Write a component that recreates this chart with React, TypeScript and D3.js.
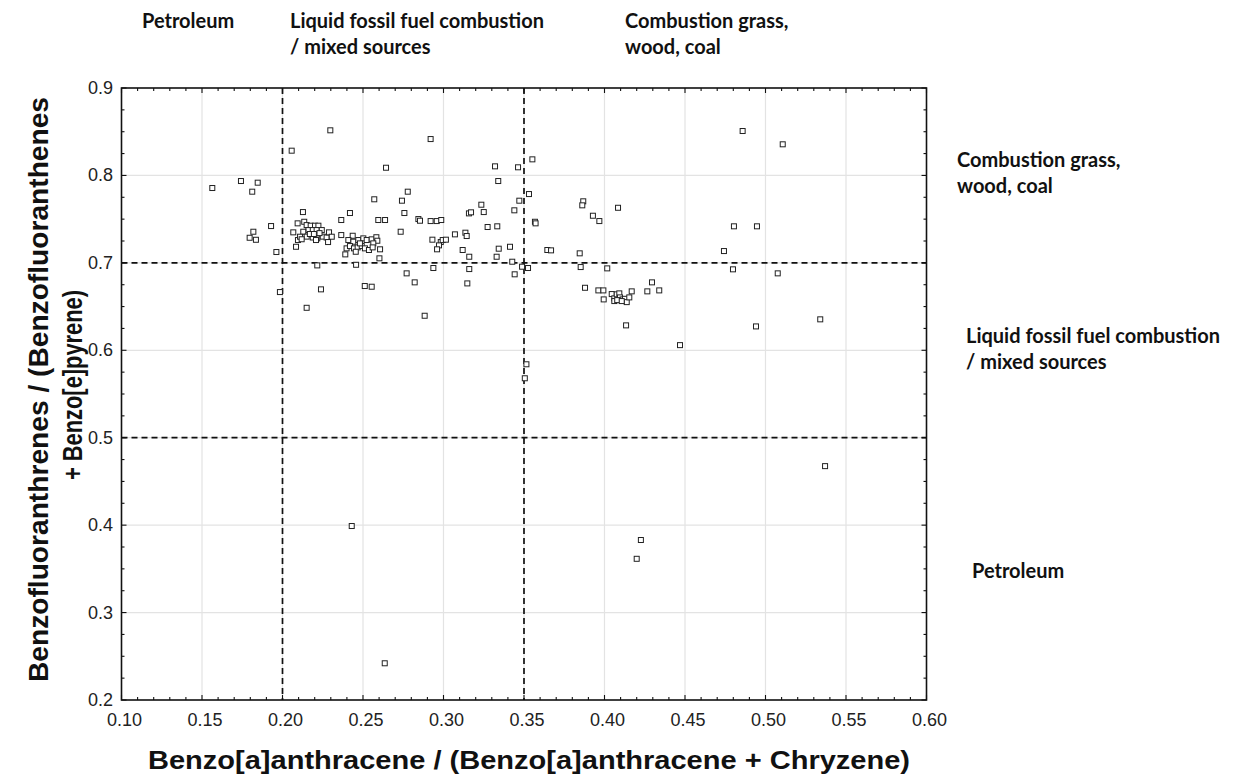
import React from "react";
import * as d3 from "d3";

// BaA/(BaA+Chr) vs BFs/(BFs+BeP) diagnostic ratios, one pair per sample
const samples: [number, number][] = [
  // below 0.20
  [0.1564, 0.7856], [0.1742, 0.7936], [0.1846, 0.7917], [0.1812, 0.7814], [0.1929, 0.7421],
  [0.1819, 0.7356], [0.1796, 0.7287], [0.1835, 0.7264], [0.1962, 0.7124], [0.1984, 0.6666],
  // 0.20 - 0.235
  [0.2057, 0.8283], [0.2297, 0.8516], [0.215, 0.6486], [0.2239, 0.6697], [0.2216, 0.6971],
  [0.2127, 0.7581], [0.2094, 0.7452], [0.2135, 0.747], [0.2067, 0.7349], [0.2096, 0.7261],
  [0.2084, 0.7184], [0.215, 0.7432], [0.2175, 0.7425], [0.2202, 0.7425], [0.2223, 0.7425],
  [0.2161, 0.7375], [0.2188, 0.7375], [0.2212, 0.7375], [0.2244, 0.7375], [0.2129, 0.7356],
  [0.215, 0.73], [0.2188, 0.729], [0.2216, 0.728], [0.225, 0.73], [0.2274, 0.729],
  [0.2289, 0.7349], [0.2306, 0.7299], [0.2283, 0.7238], [0.2109, 0.7299], [0.2119, 0.727],
  [0.2208, 0.7261], [0.217, 0.733], [0.223, 0.734], [0.2195, 0.733],
  // 0.235 - 0.265
  [0.2365, 0.749], [0.2419, 0.757], [0.2365, 0.7318], [0.239, 0.7097], [0.2457, 0.6978],
  [0.2511, 0.6735], [0.2554, 0.6727], [0.257, 0.7727], [0.2595, 0.749], [0.2637, 0.749],
  [0.2436, 0.731], [0.2409, 0.7261], [0.244, 0.7242], [0.2471, 0.7261], [0.2502, 0.728],
  [0.2523, 0.7261], [0.2554, 0.7269], [0.2583, 0.7293], [0.2589, 0.7253], [0.2564, 0.7223],
  [0.2606, 0.7155], [0.2602, 0.7052], [0.2398, 0.7166], [0.2419, 0.7192], [0.2444, 0.7166],
  [0.2467, 0.7177], [0.2492, 0.7192], [0.2512, 0.7166], [0.2537, 0.7147], [0.256, 0.7177],
  [0.2481, 0.7223], [0.2455, 0.7127], [0.243, 0.399], [0.2635, 0.242],
  // 0.265 - 0.35
  [0.2643, 0.8088], [0.2778, 0.7814], [0.2742, 0.7711], [0.2757, 0.757], [0.2734, 0.7356],
  [0.2844, 0.7501], [0.2854, 0.7482], [0.292, 0.7478], [0.2958, 0.7478], [0.2986, 0.749],
  [0.2931, 0.7265], [0.2983, 0.7238], [0.2995, 0.7261], [0.2972, 0.72], [0.296, 0.7155],
  [0.3015, 0.7265], [0.3071, 0.7326], [0.3136, 0.7345], [0.3144, 0.7307], [0.3119, 0.7147],
  [0.316, 0.707], [0.2937, 0.6941], [0.316, 0.6929], [0.3148, 0.6765], [0.2771, 0.688],
  [0.2821, 0.6777], [0.3158, 0.7566], [0.3171, 0.7578], [0.3235, 0.7665], [0.325, 0.7581],
  [0.3274, 0.741], [0.3334, 0.7418], [0.332, 0.8104], [0.334, 0.7936], [0.3463, 0.8093],
  [0.3471, 0.7711], [0.344, 0.7601], [0.3343, 0.7162], [0.3413, 0.7184], [0.333, 0.707],
  [0.3427, 0.7013], [0.3442, 0.6869], [0.3488, 0.6956], [0.2883, 0.6395], [0.292, 0.8416],
  // above 0.35
  [0.3552, 0.8184], [0.3531, 0.7787], [0.3568, 0.747], [0.3572, 0.7452], [0.3525, 0.6941],
  [0.3645, 0.7147], [0.3668, 0.7143], [0.3515, 0.584], [0.3505, 0.568],
  [0.3868, 0.7704], [0.3862, 0.7658], [0.3928, 0.7539], [0.3968, 0.7478], [0.4084, 0.763],
  [0.3846, 0.7109], [0.3852, 0.6952], [0.4017, 0.6937], [0.3879, 0.6715], [0.3962, 0.6685],
  [0.3993, 0.6685], [0.3995, 0.6582], [0.4045, 0.6643], [0.4061, 0.6594], [0.4076, 0.664],
  [0.4092, 0.6651], [0.4096, 0.6605], [0.4113, 0.6582], [0.4127, 0.6589], [0.4138, 0.6551],
  [0.4154, 0.6605], [0.4169, 0.6674], [0.4061, 0.6563], [0.4079, 0.6574], [0.4107, 0.6563],
  [0.4295, 0.6777], [0.4266, 0.6674], [0.434, 0.6685], [0.4134, 0.6285], [0.4469, 0.6059],
  [0.42, 0.3615], [0.4226, 0.383],
  [0.4858, 0.8508], [0.5107, 0.8356], [0.4804, 0.7418], [0.4947, 0.7418], [0.4742, 0.7135],
  [0.4798, 0.6926], [0.5076, 0.688], [0.4941, 0.6273], [0.534, 0.6354], [0.537, 0.4675],
];

const xTicks = [0.1, 0.15, 0.2, 0.25, 0.3, 0.35, 0.4, 0.45, 0.5, 0.55, 0.6];
const yTicks = [0.2, 0.3, 0.4, 0.5, 0.6, 0.7, 0.8, 0.9];
const xThresholds = [0.2, 0.35];
const yThresholds = [0.5, 0.7];

const xTitle = "Benzo[a]anthracene / (Benzo[a]anthracene + Chryzene)";
const yTitleLines = ["Benzofluoranthrenes / (Benzofluoranthenes", "+ Benzo[e]pyrene)"];

const sourcePetroleum = ["Petroleum"];
const sourceLiquid = ["Liquid fossil fuel combustion", "/ mixed sources"];
const sourceCombustion = ["Combustion grass,", "wood, coal"];

const annFont = "Lato, 'Open Sans', sans-serif";
const axisFont = "'Liberation Sans', Arial, sans-serif";

function Note({ lines, x, y }: { lines: string[]; x: number; y: number }) {
  return (
    <text x={x} y={y} fontFamily={annFont} fontWeight={700} fontSize={20} fill="#111">
      {lines.map((l, i) => (
        <tspan key={i} x={x} dy={i === 0 ? 0 : 26}>
          {l}
        </tspan>
      ))}
    </text>
  );
}

export default function App() {
  const W = 1234;
  const H = 775;
  const x = d3.scaleLinear().domain([0.1, 0.6]).range([121.5, 926.5]);
  const y = d3.scaleLinear().domain([0.2, 0.9]).range([700, 88]);
  const [x0, x1] = x.range();
  const [y0, y1] = y.range();

  const xMinor = d3.range(0, 51).map((i) => 0.1 + i * 0.01);
  const yMinor = d3.range(0, 29).map((i) => 0.2 + i * 0.025);
  const fmtX = d3.format(".2f");
  const fmtY = d3.format(".1f");
  const sq = 5;

  return (
    <svg
      width={W}
      height={H}
      viewBox={`0 0 ${W} ${H}`}
      style={{ position: "absolute", left: 0, top: 0, background: "#fff" }}
    >
      <rect width={W} height={H} fill="#fff" />

      {/* grid */}
      {xTicks.slice(1, -1).map((t) => (
        <line key={"gx" + t} x1={x(t)} x2={x(t)} y1={y1} y2={y0} stroke="#e3e3e3" strokeWidth={1.2} />
      ))}
      {yTicks.slice(1, -1).map((t) => (
        <line key={"gy" + t} x1={x0} x2={x1} y1={y(t)} y2={y(t)} stroke="#e3e3e3" strokeWidth={1.2} />
      ))}

      {/* source-apportionment thresholds */}
      {xThresholds.map((t) => (
        <line key={"tx" + t} x1={x(t)} x2={x(t)} y1={y1} y2={y0} stroke="#111" strokeWidth={1.7} strokeDasharray="6,4" />
      ))}
      {yThresholds.map((t) => (
        <line key={"ty" + t} x1={x0} x2={x1} y1={y(t)} y2={y(t)} stroke="#111" strokeWidth={1.7} strokeDasharray="6,4" />
      ))}

      {/* samples */}
      {samples.map(([a, b], i) => (
        <rect
          key={i}
          x={x(a) - sq / 2}
          y={y(b) - sq / 2}
          width={sq}
          height={sq}
          fill="#fff"
          stroke="#222"
          strokeWidth={1}
        />
      ))}

      {/* frame and ticks */}
      <rect x={x0} y={y1} width={x1 - x0} height={y0 - y1} fill="none" stroke="#111" strokeWidth={1.6} />
      {xMinor.map((t, i) => {
        const len = i % 5 === 0 ? 5 : 3;
        return (
          <g key={"mx" + i} stroke="#111" strokeWidth={1.1}>
            <line x1={x(t)} x2={x(t)} y1={y0} y2={y0 - len} />
            <line x1={x(t)} x2={x(t)} y1={y1} y2={y1 + len} />
          </g>
        );
      })}
      {yMinor.map((t, i) => {
        const len = i % 4 === 0 ? 5 : 3;
        return (
          <g key={"my" + i} stroke="#111" strokeWidth={1.1}>
            <line x1={x0} x2={x0 + len} y1={y(t)} y2={y(t)} />
            <line x1={x1} x2={x1 - len} y1={y(t)} y2={y(t)} />
          </g>
        );
      })}

      {/* tick labels */}
      {xTicks.map((t) => (
        <text key={"lx" + t} x={x(t) + 3} y={726} textAnchor="middle" fontFamily={axisFont} fontSize={18} fill="#222">
          {fmtX(t)}
        </text>
      ))}
      {yTicks.map((t) => (
        <text key={"ly" + t} x={113} y={y(t) + 6} textAnchor="end" fontFamily={axisFont} fontSize={18} fill="#222">
          {fmtY(t)}
        </text>
      ))}

      {/* axis titles */}
      <text
        x={529}
        y={769}
        textAnchor="middle"
        fontFamily={axisFont}
        fontWeight={700}
        fontSize={26}
        fill="#111"
        textLength={762}
        lengthAdjust="spacingAndGlyphs"
      >
        {xTitle}
      </text>
      <text
        transform="translate(48,389.5) rotate(-90)"
        textAnchor="middle"
        fontFamily={axisFont}
        fontWeight={700}
        fontSize={27}
        fill="#111"
        textLength={585}
        lengthAdjust="spacingAndGlyphs"
      >
        {yTitleLines[0]}
      </text>
      <text
        transform="translate(82,385) rotate(-90)"
        textAnchor="middle"
        fontFamily={axisFont}
        fontWeight={700}
        fontSize={27}
        fill="#111"
        textLength={190}
        lengthAdjust="spacingAndGlyphs"
      >
        {yTitleLines[1]}
      </text>

      {/* source regions along the x axis */}
      <Note lines={sourcePetroleum} x={142} y={28} />
      <Note lines={sourceLiquid} x={290} y={28} />
      <Note lines={sourceCombustion} x={625} y={28} />

      {/* source regions along the y axis */}
      <Note lines={sourceCombustion} x={957} y={167} />
      <Note lines={sourceLiquid} x={966} y={343} />
      <Note lines={sourcePetroleum} x={972} y={578} />
    </svg>
  );
}
